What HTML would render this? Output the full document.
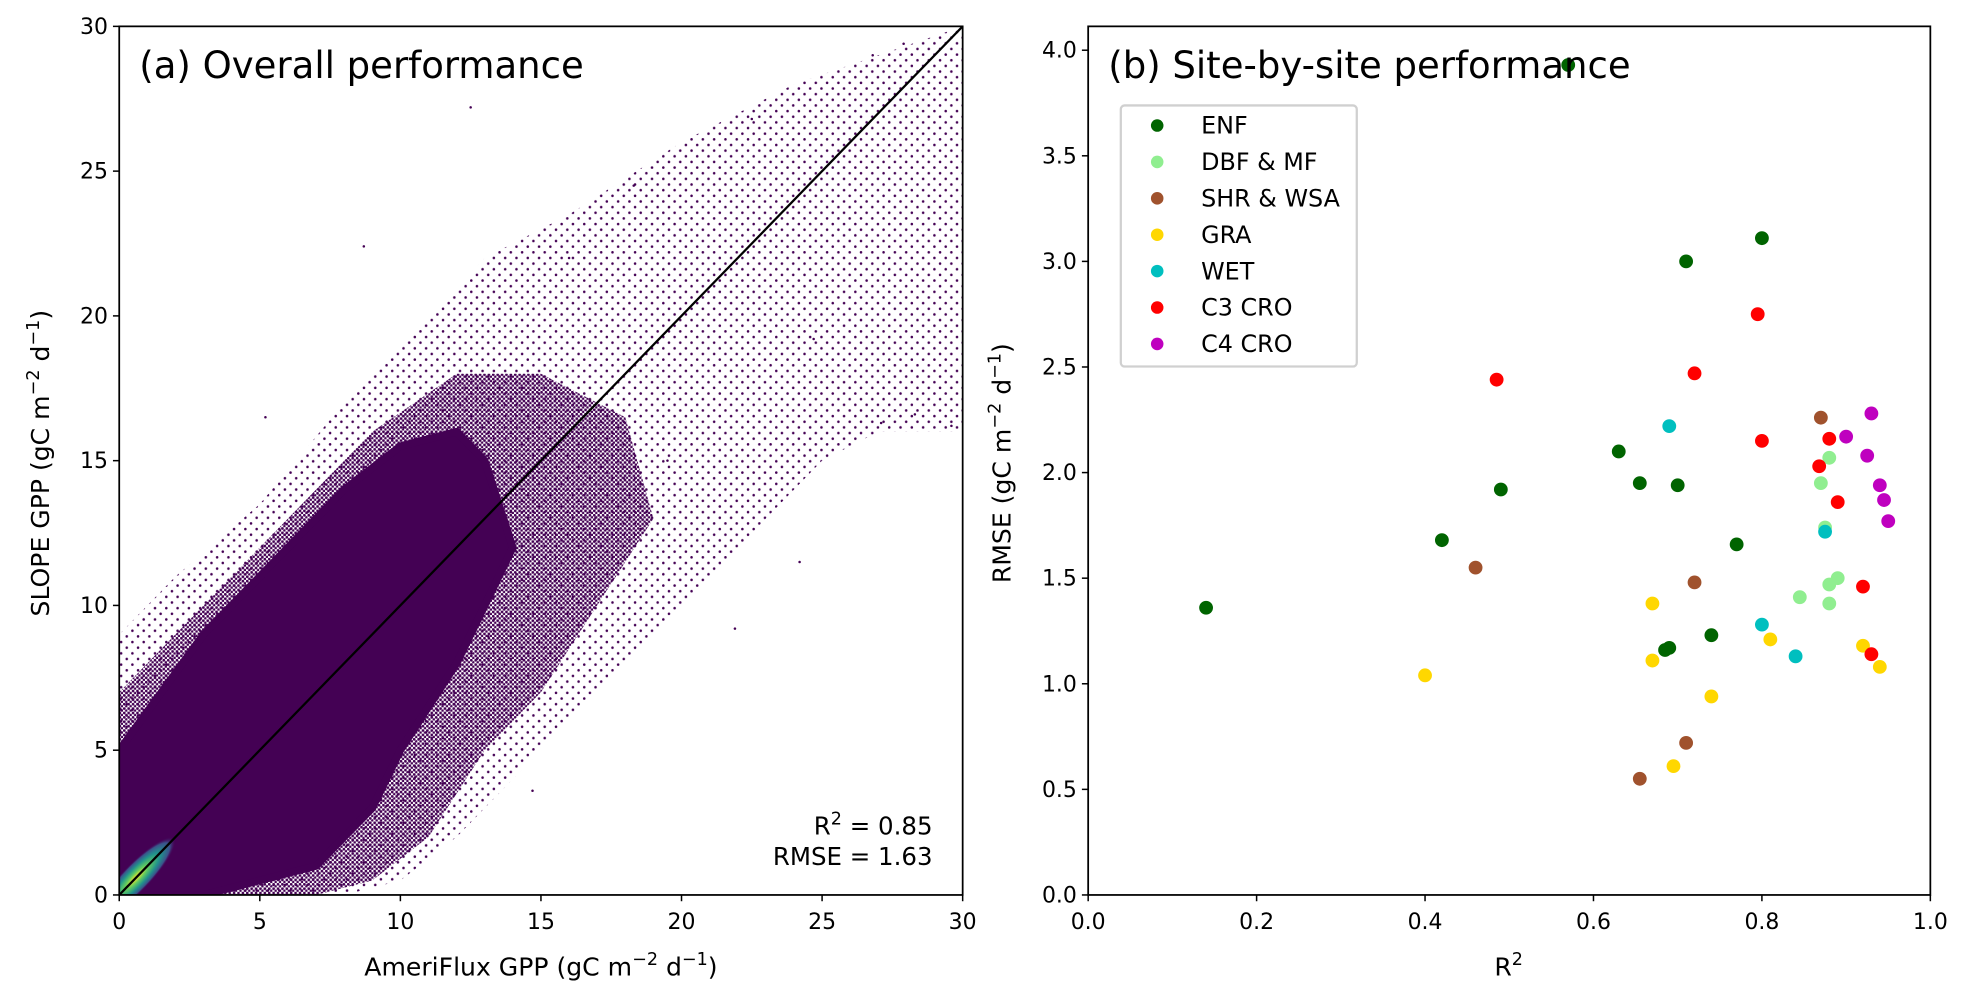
<!DOCTYPE html>
<html><head><meta charset="utf-8"><style>
html,body{margin:0;padding:0;background:#fff}
svg{display:block}
text{font-family:"DejaVu Sans","Liberation Sans",sans-serif;fill:#000}
</style></head><body>
<svg id="fig" width="1968" height="996" viewBox="0 0 1568 793.5" preserveAspectRatio="none" xmlns="http://www.w3.org/2000/svg">
<defs>
<pattern id="sparse" width="9" height="9" patternUnits="userSpaceOnUse"><circle cx="2" cy="3" r="1" fill="#440154"/><circle cx="6.5" cy="7.5" r="1" fill="#440154"/></pattern>
<pattern id="medium" width="3.5" height="3.5" patternUnits="userSpaceOnUse"><circle cx="1" cy="1" r="1.1" fill="#440154"/><circle cx="2.75" cy="2.75" r="1.1" fill="#440154"/></pattern>
<radialGradient id="dens" cx="0.5" cy="0.5" r="0.5"><stop offset="0" stop-color="#fde725"/><stop offset="0.3" stop-color="#5ec962"/><stop offset="0.6" stop-color="#21918c"/><stop offset="0.85" stop-color="#3b528b"/><stop offset="1" stop-color="#440154" stop-opacity="0"/></radialGradient>
<clipPath id="clipA"><rect x="95" y="21" width="672" height="692"/></clipPath>
</defs>
<g id="left"></g>
<g id="right"></g>
</svg>
<script>
// Left panel data (AmeriFlux GPP vs SLOPE GPP density outline, data units)
const outerX=[0,0,2,5,8,10,13,16,20,24,27,30,30,27,25,22,20,17,15,12,10,8];
const outerY=[0,9,11,13.5,17,19,22,23.5,26,28,29,30,16,16,15,12,10,7,5,2,0.5,0];
const midX=[0,0,3,6,9,12,15,18,19,17,15,13,11,9,7,4];
const midY=[0,7,10,13,16,18,18,16.5,13,10,7,5,2,0.5,0,0];
const coreX=[0,0,3,6,8,10,12,13,14,13,12,10,9,7,5,3];
const coreY=[0,5,9,12,14,15.5,16,15,12,10,8,5,3,1,0.5,0];
const outX=[12.5,18.3,24.2,27.1,26.8,22.5,16,8.7,19.5,29.6,28.3,24.7,10.5,5.2,21.9,27.9,14.7];
const outY=[27.2,24.5,11.5,16.3,29,26.8,22,22.4,15,16.2,16.6,19.2,2.2,16.5,9.2,29.4,3.6];
const xTicksA=[0,5,10,15,20,25,30];
const yTicksA=[0,5,10,15,20,25,30];
// Right panel data (R2, RMSE) per class
const classes=["ENF","DBF & MF","SHR & WSA","GRA","WET","C3 CRO","C4 CRO"];
const colors=["#006400","#90ee90","#a0522d","#ffd700","#00bfbf","#ff0000","#bf00bf"];
const r2Vals=[
 [0.14,0.42,0.49,0.57,0.63,0.655,0.70,0.71,0.80,0.77,0.74,0.685,0.69],
 [0.87,0.88,0.875,0.845,0.88,0.89,0.88],
 [0.46,0.72,0.87,0.71,0.655],
 [0.40,0.67,0.67,0.74,0.695,0.81,0.92,0.94],
 [0.69,0.875,0.80,0.84],
 [0.485,0.72,0.795,0.80,0.868,0.88,0.89,0.92,0.93],
 [0.93,0.90,0.925,0.94,0.945,0.95]];
const rmseVals=[
 [1.36,1.68,1.92,3.93,2.10,1.95,1.94,3.00,3.11,1.66,1.23,1.16,1.17],
 [1.95,2.07,1.74,1.41,1.47,1.50,1.38],
 [1.55,1.48,2.26,0.72,0.55],
 [1.04,1.38,1.11,0.94,0.61,1.21,1.18,1.08],
 [2.22,1.72,1.28,1.13],
 [2.44,2.47,2.75,2.15,2.03,2.16,1.86,1.46,1.14],
 [2.28,2.17,2.08,1.94,1.87,1.77]];
const xTicksB=["0.0","0.2","0.4","0.6","0.8","1.0"];
const yTicksB=["0.0","0.5","1.0","1.5","2.0","2.5","3.0","3.5","4.0"];

const NS="http://www.w3.org/2000/svg";
const TF=17.5;
function mk(tag,attrs,parent,txt){const e=document.createElementNS(NS,tag);for(const k in attrs)e.setAttribute(k,attrs[k]);if(txt!==undefined)e.textContent=txt;parent.appendChild(e);return e;}
const L=document.getElementById('left'), R=document.getElementById('right');
const ax=v=>95+v*(672/30), ay=v=>713-v*(692/30);
const poly=(xs,ys)=>xs.map((x,i)=>ax(x)+','+ay(ys[i])).join(' ');
const g=mk('g',{'clip-path':'url(#clipA)'},L);
let p=mk('polygon',{points:poly(outerX,outerY),fill:'url(#sparse)'},g);


p=mk('polygon',{points:poly(midX,midY),fill:'url(#medium)'},g);


p=mk('polygon',{points:poly(coreX,coreY),fill:'#440154',stroke:'#440154','stroke-width':6,'stroke-linejoin':'round'},g);


outX.forEach((x,i)=>{const c=mk('circle',{cx:ax(x),cy:ay(outY[i]),r:1,fill:'#440154'},g);

});
p=mk('ellipse',{cx:ax(0.6),cy:ay(0.6),rx:44,ry:11,fill:'url(#dens)',transform:`rotate(-46 ${ax(0.6)} ${ay(0.6)})`},g);


let ln=mk('line',{x1:ax(0),y1:ay(0),x2:ax(30),y2:ay(30),stroke:'#000','stroke-width':1.8},g);


let fr=mk('rect',{x:95,y:21,width:672,height:692,fill:'none',stroke:'#000','stroke-width':1.4},L);


xTicksA.forEach(v=>{mk('line',{x1:ax(v),x2:ax(v),y1:713,y2:718,stroke:'#000','stroke-width':1.2},L);
const t=mk('text',{x:ax(v),y:740,'font-size':TF,'text-anchor':'middle'},L,String(v));

});
yTicksA.forEach(v=>{mk('line',{x1:90,x2:95,y1:ay(v),y2:ay(v),stroke:'#000','stroke-width':1.2},L);
const t=mk('text',{x:86,y:ay(v)+6,'font-size':TF,'text-anchor':'end'},L,String(v));

});
const bx=v=>867+v*671, by=v=>713-v*168.25;
fr=mk('rect',{x:867,y:21,width:671,height:692,fill:'none',stroke:'#000','stroke-width':1.4},R);


xTicksB.forEach(s=>{const v=parseFloat(s);mk('line',{x1:bx(v),x2:bx(v),y1:713,y2:718,stroke:'#000','stroke-width':1.2},R);
const t=mk('text',{x:bx(v),y:740,'font-size':TF,'text-anchor':'middle'},R,s);

});
yTicksB.forEach(s=>{const v=parseFloat(s);mk('line',{x1:862,x2:867,y1:by(v),y2:by(v),stroke:'#000','stroke-width':1.2},R);
const t=mk('text',{x:858,y:by(v)+6,'font-size':TF,'text-anchor':'end'},R,s);

});
classes.forEach((c,k)=>{r2Vals[k].forEach((x,i)=>{const d=mk('circle',{cx:bx(x),cy:by(rmseVals[k][i]),r:5.5,fill:colors[k]},R);

});});
</script>
<script>
(function(){
const NS="http://www.w3.org/2000/svg";
const L=document.getElementById('left'), R=document.getElementById('right');
function mk(tag,attrs,parent,html){const e=document.createElementNS(NS,tag);for(const k in attrs)e.setAttribute(k,attrs[k]);if(html!==undefined)e.innerHTML=html;parent.appendChild(e);return e;}
const sup=(s)=>`<tspan dy="-8" font-size="14">${s}</tspan>`;
let t;
t=mk('text',{x:111,y:62,'font-size':29.5},L,'(a) Overall performance');


t=mk('text',{x:743,y:665,'font-size':19.5,'text-anchor':'end'},L,'R'+sup('2')+'<tspan dy="8"> = 0.85</tspan>');


t=mk('text',{x:743,y:689,'font-size':19.5,'text-anchor':'end'},L,'RMSE = 1.63');


t=mk('text',{x:431,y:777,'font-size':20,'text-anchor':'middle'},L,'AmeriFlux GPP (gC m'+sup('−2')+'<tspan dy="8"> d</tspan>'+sup('−1')+'<tspan dy="8">)</tspan>');


t=mk('text',{x:0,y:0,'font-size':20,'text-anchor':'middle',transform:'translate(39 369) rotate(-90)'},L,'SLOPE GPP (gC m'+sup('−2')+'<tspan dy="8"> d</tspan>'+sup('−1')+'<tspan dy="8">)</tspan>');


t=mk('text',{x:883,y:62,'font-size':29.5},R,'(b) Site-by-site performance');


t=mk('text',{x:1202,y:777,'font-size':20,'text-anchor':'middle'},R,'R'+sup('2'));


t=mk('text',{x:0,y:0,'font-size':20,'text-anchor':'middle',transform:'translate(805 369) rotate(-90)'},R,'RMSE (gC m'+sup('−2')+'<tspan dy="8"> d</tspan>'+sup('−1')+'<tspan dy="8">)</tspan>');


const lg=mk('g',{},R);


mk('rect',{x:893,y:84,width:188,height:208,rx:3,fill:'#fff',stroke:'#d0d0d0','stroke-width':1.8},lg);
classes.forEach((c,k)=>{const y=100+k*29;
const e=mk('g',{},lg);


mk('circle',{cx:922,cy:y,r:5,fill:colors[k]},e);
mk('text',{x:957,y:y+6.5,'font-size':19},e,c.replace('&','&amp;'));});
})();
</script>
</body></html>
